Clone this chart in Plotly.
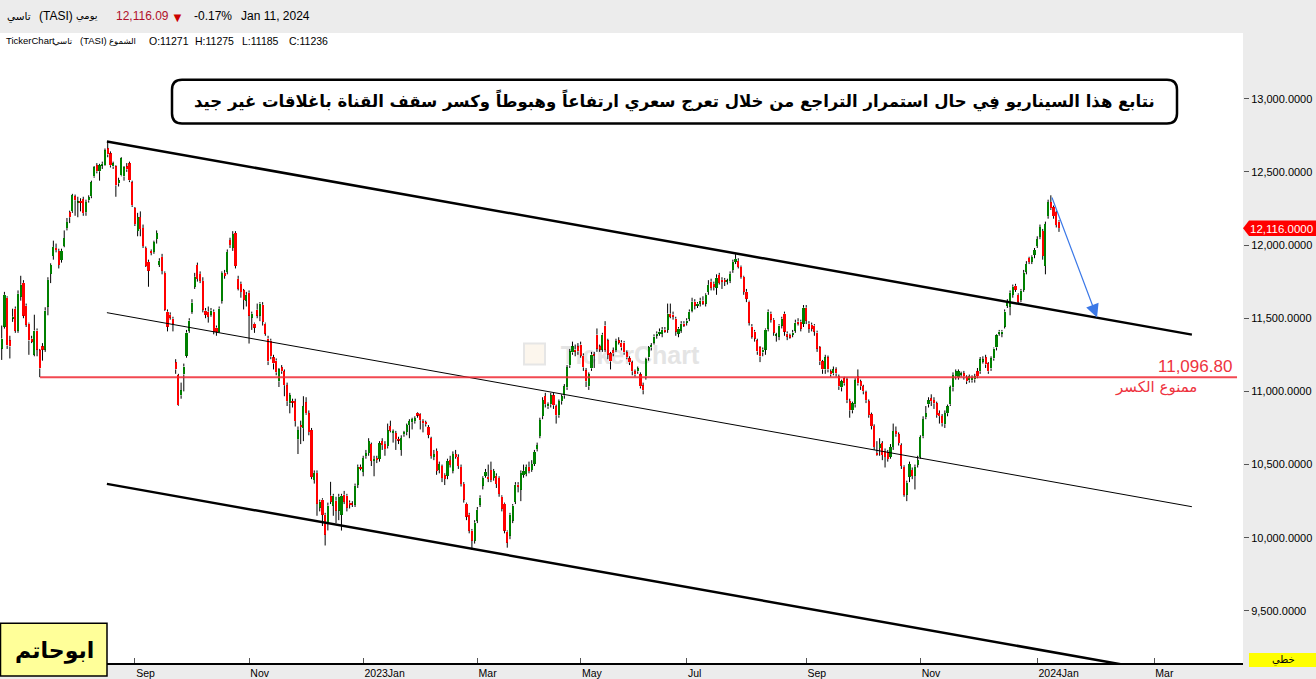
import pandas as pd
import plotly.graph_objects as go

# ---------------- data (daily candles, TASI) ----------------
open_ = [
 11293,11443,11640,11348,11500,11565,11415,11647,11742,11586,11463,11361,11252,11416,11280,11307,11286,11580,11803,11926,
 11980,11960,11898,11994,12116,12225,12232,12333,12290,12300,12313,12225,12306,12334,12470,12545,12504,12545,12545,12660,
 12626,12537,12537,12422,
 12476,12469,12537,12558,12428,12252,12096,12191,12116,11980,11885,11960,11953,12041,11864,11919,11810,11545,11524,11497,
 11198,11110,10973,11116,11245,11415,11545,11715,11864,11803,11755,11552,11545,11524,11545,11436,11409,11620,11810,11817,
 12034,11980,12082,
 11769,11735,11690,11620,11674,11504,11463,11558,11518,11592,11463,11361,11347,11232,11211,11069,11164,11137,11042,10919,
 10933,10933,10674,10770,10749,10926,10851,10735,10395,10443,10205,10260,10157,10103,10287,10219,10253,10185,10157,10294,
 10287,10240,10233,10226,
 10362,10484,10450,10558,10579,10640,10525,10545,10538,10660,10640,10626,10763,10716,10715,10674,10600,10708,10722,10770,
 10790,10797,10851,10844,10797,10790,10756,10681,10552,10593,10463,10490,10430,10422,10531,10456,10572,10552,10484,10368,
 10232,10157,10048,9980,
 10117,10226,10355,10423,10416,10463,10409,10423,10409,10280,10232,10042,10014,10117,10246,10362,10328,10430,10436,10484,
 10463,10504,10606,10695,10831,10967,10898,10912,10973,10898,10837,10933,10973,11028,11178,11266,11286,11307,11320,11245,
 11143,11035,11157,
 11252,11388,11307,11286,11450,11348,11259,11280,11286,11348,11334,11334,11266,11225,11198,11137,11137,11116,11042,11103,
 11232,11300,11334,11382,11395,11395,11422,11422,11531,11525,11497,11395,11416,11463,11470,11497,11552,11613,11586,11600,
 11620,11600,11680,11749,
 11735,11708,11796,11762,11762,11749,11756,11830,11885,11892,11851,11783,11681,11613,11443,11409,11348,11300,11266,11286,
 11429,11531,11490,11382,11375,11450,11531,11395,11382,11388,11416,11477,11477,11463,11572,11463,11456,11450,11402,11300,
 11205,11150,11232,
 11137,11123,11150,11103,11028,11089,11082,10933,10871,10912,11103,11069,11035,10994,10933,10844,10763,10579,10613,10647,
 10593,10586,10552,10620,10729,10708,10633,10484,10294,10416,10463,10423,10497,10552,10694,10824,10912,10953,10940,10919,
 10851,10831,10776,10851,10912,
 11028,11103,11096,11116,11123,11096,11076,11076,11082,11137,11137,11205,11232,11191,11157,11225,11300,11395,11395,11443,
 11586,11579,11660,11722,11660,11626,11694,11817,11912,11885,11933,11994,12055,12096,11858,12198,12293,12259,12225,12160,
]
high_ = [
 11450,11680,11650,11380,11565,11580,11690,11790,11760,11600,11470,11380,11524,11430,11290,11330,11575,11780,11875,12030,
 12010,11975,11975,12100,12185,12235,12350,12345,12330,12320,12330,12310,12340,12440,12540,12560,12555,12570,12660,12705,
 12640,12570,12545,12460,
 12600,12540,12560,12570,12440,12260,12220,12230,12140,11990,11900,11970,12030,12100,11910,11940,11820,11560,11540,11510,
 11220,11120,11060,11190,11420,11500,11630,11810,11880,11820,11780,11570,11580,11570,11560,11450,11580,11820,11830,11970,
 12050,12095,12095,
 11790,11750,11700,11680,11690,11545,11470,11600,11610,11610,11470,11380,11360,11250,11225,11160,11180,11150,11060,10990,
 10950,10950,10760,10800,10967,10960,10870,10750,10460,10460,10260,10270,10170,10240,10382,10300,10280,10300,10300,10320,
 10300,10255,10250,10370,
 10500,10500,10560,10600,10680,10650,10560,10560,10660,10680,10660,10780,10800,10740,10730,10690,10700,10730,10780,10810,
 10820,10830,10857,10850,10810,10800,10770,10690,10600,10610,10520,10500,10440,10540,10560,10590,10600,10570,10500,10380,
 10240,10170,10060,10120,
 10210,10290,10420,10470,10500,10520,10470,10440,10420,10290,10240,10050,10170,10230,10380,10380,10460,10500,10500,10520,
 10530,10600,10650,10820,10960,10990,10925,10990,10990,10910,10945,10980,11050,11180,11290,11340,11320,11330,11340,11260,
 11160,11130,11270,
 11270,11430,11320,11400,11480,11360,11270,11300,11360,11370,11350,11345,11280,11240,11210,11150,11170,11130,11060,11230,
 11310,11330,11390,11410,11430,11440,11440,11600,11600,11545,11510,11440,11480,11480,11500,11560,11640,11630,11610,11640,
 11650,11670,11760,11770,
 11750,11800,11810,11780,11775,11770,11820,11900,11938,11910,11860,11790,11700,11620,11460,11420,11360,11310,11300,11430,
 11560,11545,11500,11400,11460,11510,11545,11410,11395,11420,11490,11500,11490,11590,11590,11480,11470,11460,11415,11310,
 11215,11250,11245,
 11150,11170,11165,11115,11080,11100,11095,10950,10930,11090,11150,11080,11045,11005,10945,10855,10775,10660,10680,10660,
 10610,10600,10640,10780,10760,10720,10645,10495,10390,10520,10480,10500,10560,10700,10830,10900,10960,10980,10960,10930,
 10870,10845,10870,10910,11040,
 11130,11150,11150,11135,11140,11110,11115,11110,11120,11160,11235,11240,11250,11200,11240,11300,11390,11420,11420,11560,
 11630,11690,11730,11735,11670,11700,11830,11890,11920,11930,11980,12060,12140,12110,12160,12310,12340,12270,12235,12170,
]
low_ = [
 11215,11429,11290,11225,11475,11400,11400,11620,11500,11440,11250,11330,11240,11240,11097,11210,11270,11520,11740,11900,
 11950,11840,11880,11985,12100,12150,12220,12200,12190,12230,12200,12200,12290,12320,12460,12490,12440,12520,12540,12600,
 12530,12520,12330,12400,
 12470,12440,12500,12430,12260,12130,12060,12060,11980,11850,11715,11930,11940,12010,11850,11800,11550,11410,11490,11410,
 11120,10900,10950,11000,11230,11400,11530,11700,11750,11740,11540,11500,11470,11510,11390,11380,11400,11600,11770,11800,
 11980,11960,11840,
 11690,11640,11560,11580,11327,11420,11400,11500,11480,11450,11380,11180,11220,11150,11110,11030,11120,10967,10900,10850,
 10890,10760,10572,10640,10660,10840,10700,10400,10370,10150,10180,10080,9947,10050,10230,10150,10100,10120,10049,10230,
 10180,10200,10210,10210,
 10340,10460,10420,10540,10560,10490,10420,10510,10520,10600,10560,10610,10720,10650,10600,10640,10560,10690,10700,10680,
 10740,10780,10820,10740,10720,10760,10680,10540,10530,10430,10440,10380,10360,10400,10480,10440,10540,10470,10350,10240,
 10120,10030,9918,9960,
 10100,10210,10330,10410,10380,10380,10390,10340,10280,10180,10030,9932,9990,10100,10230,10310,10250,10410,10420,10440,
 10450,10490,10590,10680,10810,10890,10880,10890,10880,10780,10820,10910,10950,11010,11160,11250,11240,11250,11230,11140,
 11030,11010,11140,
 11160,11270,11270,11270,11270,11220,11150,11240,11270,11320,11280,11250,11220,11180,11110,11100,11120,11020,10980,11080,
 11210,11280,11320,11360,11380,11370,11400,11400,11500,11490,11380,11370,11400,11440,11450,11480,11540,11560,11570,11580,
 11590,11580,11660,11690,
 11690,11660,11730,11700,11720,11730,11740,11810,11870,11840,11770,11660,11610,11450,11360,11340,11250,11200,11240,11250,
 11410,11470,11380,11340,11350,11430,11380,11350,11360,11370,11400,11450,11410,11440,11460,11400,11410,11380,11270,11180,
 11120,11120,11130,
 11100,11110,11100,11010,11000,11040,10920,10820,10850,10890,11040,11010,10980,10920,10820,10740,10600,10560,10560,10530,
 10480,10520,10540,10600,10690,10630,10470,10280,10250,10380,10400,10330,10480,10540,10680,10810,10890,10900,10880,10820,
 10780,10760,10750,10830,10900,
 11000,11080,11080,11100,11080,11050,11060,11060,11060,11090,11120,11190,11160,11120,11140,11210,11280,11380,11370,11430,
 11570,11520,11640,11680,11590,11610,11680,11800,11870,11870,11910,11980,12040,11900,11800,12180,12240,12180,12120,12090,
]
close_ = [
 11361,11660,11314,11307,11510,11415,11667,11728,11518,11456,11348,11340,11416,11286,11157,11286,11552,11762,11864,11987,
 11966,11864,11960,12048,12157,12190,12340,12306,12295,12290,12218,12293,12327,12429,12531,12504,12545,12555,12647,12619,
 12545,12558,12408,12442,
 12592,12531,12517,12442,12272,12143,12191,12109,11994,11858,11824,11946,12021,12082,11892,11824,11558,11443,11504,11463,
 11150,10905,11007,11170,11402,11484,11606,11783,11769,11755,11558,11524,11510,11552,11409,11409,11565,11810,11790,11953,
 12000,12075,11858,
 11701,11680,11626,11660,11518,11531,11436,11518,11600,11477,11395,11205,11239,11191,11130,11150,11137,11042,10933,10973,
 10925,10797,10735,10756,10898,10851,10722,10416,10443,10232,10246,10157,10021,10219,10246,10287,10185,10280,10287,10246,
 10205,10226,10226,10355,
 10484,10470,10545,10579,10660,10525,10538,10531,10647,10633,10606,10735,10729,10729,10674,10667,10681,10722,10770,10797,
 10810,10817,10838,10803,10783,10776,10702,10559,10572,10456,10504,10409,10402,10525,10497,10572,10552,10490,10368,10260,
 10144,10048,9980,10103,
 10191,10273,10409,10450,10402,10395,10456,10368,10300,10198,10049,9967,10157,10219,10362,10348,10443,10457,10484,10457,
 10504,10586,10633,10803,10940,10912,10912,10973,10905,10837,10933,10967,11035,11164,11273,11307,11273,11273,11245,11164,
 11069,11116,11252,
 11245,11293,11286,11388,11286,11252,11205,11259,11341,11334,11300,11266,11232,11198,11137,11116,11157,11035,11008,11218,
 11300,11314,11375,11395,11409,11422,11409,11531,11510,11510,11409,11429,11463,11450,11484,11545,11613,11586,11600,11620,
 11600,11660,11728,11708,
 11715,11776,11742,11749,11749,11756,11803,11885,11905,11851,11783,11681,11633,11470,11375,11361,11273,11239,11286,11422,
 11545,11490,11402,11388,11450,11497,11409,11375,11368,11402,11470,11463,11429,11572,11484,11429,11429,11409,11293,11205,
 11150,11232,11150,
 11116,11150,11123,11035,11069,11055,10940,10871,10919,11076,11055,11035,11001,10940,10838,10763,10620,10565,10640,10565,
 10552,10538,10620,10729,10708,10647,10491,10294,10375,10504,10423,10484,10531,10688,10810,10851,10940,10933,10919,10838,
 10831,10783,10851,10898,11028,
 11110,11137,11137,11123,11103,11069,11103,11096,11103,11103,11218,11218,11184,11137,11225,11293,11382,11409,11409,11545,
 11613,11674,11715,11694,11613,11688,11810,11871,11885,11919,11966,12041,12123,11926,12143,12293,12252,12198,12137,12116,
]

# Tadawul closures used to lay out trading days (Sun-Thu sessions)
holidays = ["2022-07-07", "2022-07-10", "2022-07-11", "2022-07-12", "2022-07-13", "2022-07-14",
            "2022-09-22", "2022-11-23", "2023-02-22",
            "2023-04-20", "2023-04-23", "2023-04-24", "2023-04-25", "2023-04-26",
            "2023-06-25", "2023-06-26", "2023-06-27", "2023-06-28", "2023-06-29", "2023-07-02",
            "2023-09-24", "2024-02-22"]
last_date = "2024-01-11"
tick_months = ["2022-09", "2022-11", "2023-01", "2023-03", "2023-05", "2023-07",
               "2023-09", "2023-11", "2024-01", "2024-03"]
tick_labels = ["Sep", "Nov", "2023Jan", "Mar", "May", "Jul", "Sep", "Nov", "2024Jan", "Mar"]
y_ticks = [9500, 10000, 10500, 11000, 11500, 12000, 12500, 13000]
support_level = 11096.80
last_price = 12116.09
tag_price = 12116.0

# ---------------- layout helpers ----------------
W, H = 1316, 679
PL, PR, PT, PB = 0, 1243, 33, 666          # plot area in pixels
X_RANGE = [-0.63, 456.7]
Y_RANGE = [9144, 13449]
FONT = "Liberation Sans, DejaVu Sans, sans-serif"
AR = "DejaVu Sans, sans-serif"


def px(xp):
    return (xp - PL) / (PR - PL)


def py(yp):
    return (PB - yp) / (PB - PT)


n = len(close_)
days = pd.bdate_range("2022-01-01", "2024-06-30", freq="C",
                      weekmask="Sun Mon Tue Wed Thu", holidays=holidays)
days = list(days)
i_last = days.index(pd.Timestamp(last_date))
i0 = i_last - n + 1
pos = {d: k - i0 for k, d in enumerate(days)}
tick_vals = []
for m in tick_months:
    first = next(d for d in days if d.strftime("%Y-%m") == m)
    tick_vals.append(pos[first])

xs = list(range(n))
colors = ["#008000" if c >= o else "#ff0000" for o, c in zip(open_, close_)]

wx, wy = [], []
for i, (o, h, l, c) in enumerate(zip(open_, high_, low_, close_)):
    top, bot = max(o, c), min(o, c)
    wx += [i, i, None, i, i, None]
    wy += [h, top, None, bot, l, None]

fig = go.Figure()
fig.add_trace(go.Scatter(x=wx, y=wy, mode="lines", line=dict(color="black", width=1),
                         hoverinfo="skip", showlegend=False))
fig.add_trace(go.Bar(x=xs, y=[abs(c - o) if c != o else 4 for o, c in zip(open_, close_)],
                     base=[min(o, c) for o, c in zip(open_, close_)],
                     marker=dict(color=colors, line=dict(width=0)), width=0.8,
                     hoverinfo="skip", showlegend=False))

shapes = []
# watermark (below candles)
shapes.append(dict(type="rect", xref="paper", yref="paper", x0=px(548), x1=px(712), y0=py(367), y1=py(343),
                   line=dict(width=0), fillcolor="rgba(0,0,0,0)", layer="below",
                   label=dict(text="TickerChart", font=dict(size=25, color="#e4e4e4", family=FONT, weight="bold"),
                              textposition="middle center")))
shapes.append(dict(type="rect", xref="paper", yref="paper", x0=px(524), x1=px(545), y0=py(366), y1=py(345),
                   line=dict(color="#e6e6e6", width=2), fillcolor="rgba(250,240,225,0.6)", layer="below"))

# channel lines
shapes.append(dict(type="line", xref="x", yref="y", x0=38.7, y0=12708, x1=437.9, y1=11388,
                   line=dict(color="black", width=2.5)))
shapes.append(dict(type="line", xref="x", yref="y", x0=38.7, y0=11538, x1=437.9, y1=10212,
                   line=dict(color="black", width=1)))
shapes.append(dict(type="line", xref="x", yref="y", x0=38.7, y0=10368, x1=437.9, y1=9049,
                   line=dict(color="black", width=2.5)))
# support line
shapes.append(dict(type="line", xref="x", yref="y", x0=14.1, y0=support_level, x1=454.5, y1=support_level,
                   line=dict(color="rgba(240,40,50,0.85)", width=2)))

# title box with rounded corners
x0b, x1b, y0b, y1b, r = 172, 1177, 80, 124, 10
rx, ry = r / (PR - PL), r / (PB - PT)
X0, X1, Yt, Yb = px(x0b), px(x1b), py(y0b), py(y1b)
path = (f"M {X0+rx},{Yt} L {X1-rx},{Yt} Q {X1},{Yt} {X1},{Yt-ry} L {X1},{Yb+ry} Q {X1},{Yb} {X1-rx},{Yb} "
        f"L {X0+rx},{Yb} Q {X0},{Yb} {X0},{Yb+ry} L {X0},{Yt-ry} Q {X0},{Yt} {X0+rx},{Yt} Z")
shapes.append(dict(type="path", xref="paper", yref="paper", path=path,
                   line=dict(color="black", width=2.5), fillcolor="white"))

# price tag at right
tx0, tx1, tya, tyb = 1243, 1316, 221.5, 237
shapes.append(dict(type="path", xref="paper", yref="paper",
                   path=(f"M {px(tx0)},{py((tya+tyb)/2)} L {px(tx0+6)},{py(tya)} L {px(tx1)},{py(tya)} "
                         f"L {px(tx1)},{py(tyb)} L {px(tx0+6)},{py(tyb)} Z"),
                   line=dict(width=0), fillcolor="#ff0000"))
# signature box
shapes.append(dict(type="rect", xref="paper", yref="paper", x0=px(0.5), x1=px(107), y0=py(679), y1=py(626),
                   line=dict(color="black", width=1.5), fillcolor="#ffff99"))
# small yellow box bottom right
shapes.append(dict(type="rect", xref="paper", yref="paper", x0=px(1249), x1=px(1316), y0=py(670), y1=py(656),
                   line=dict(width=0), fillcolor="#ffff00"))

ann = []


def text(xp, yp, s, size=11, color="black", anchor="left", family=FONT, bold=False):
    ann.append(dict(xref="paper", yref="paper", x=px(xp), y=py(yp), text=(f"<b>{s}</b>" if bold else s),
                    showarrow=False, xanchor=anchor, yanchor="middle",
                    font=dict(size=size, color=color, family=family)))


# header line 1
text(33, 16, "تاسي", 10.5, anchor="right", family=AR)
text(37, 16, "(TASI)", 12)
text(100, 16, "يومي", 10, anchor="right", family=AR)
text(114, 16, f"{last_price:,.2f}", 12, color="#b0102a")
text(177, 17, "▼", 13, color="#cc0000", anchor="center")
text(192, 16, "-0.17%", 12)
text(239, 16, "Jan 11, 2024", 12)
# header line 2
text(4, 41, "TickerChart", 9.5)
text(75, 41, "تاسي", 8.5, anchor="right", family=AR)
text(78, 41, "(TASI)", 9.5)
text(138, 41, "الشموع", 8.5, anchor="right", family=AR)
text(147, 41, "O:11271", 10.5)
text(193, 41, "H:11275", 10.5)
text(240, 41, "L:11185", 10.5)
text(287, 41, "C:11236", 10.5)
# title
text(674, 101, "نتابع هذا السيناريو فِي حال استمرار التراجع من خلال تعرج سعري ارتفاعاً وهبوطاً وكسر سقف القناة باغلاقات غير جيد",
     16.5, anchor="center", family=AR, bold=True)
# support labels
text(1234, 368, f"{support_level:,.2f}", 17, color="#ee3340", anchor="right")
text(1156, 389, "ممنوع الكسر", 15, color="#ee3340", anchor="center", family=AR)
# price tag text
text(1281, 229.5, f"{tag_price:,.4f}", 11.5, color="white", anchor="center")
# signature
text(54, 654, "ابوحاتم", 22, anchor="center", family=AR, bold=True)
text(1283, 663, "خطي", 10, anchor="center", family=AR)

# projection arrow
ann.append(dict(xref="x", yref="y", axref="x", ayref="y", x=403, y=11505, ax=386.2, ay=12335,
                showarrow=True, arrowhead=2, arrowsize=2.2, arrowwidth=1.2, arrowcolor="#3b78e7",
                text="", standoff=0))

fig.update_layout(
    width=W, height=H, autosize=False,
    margin=dict(l=PL, r=W - PR, t=PT, b=H - PB, pad=0),
    paper_bgcolor="#ececec", plot_bgcolor="white",
    showlegend=False, shapes=shapes, annotations=ann, bargap=0,
    font=dict(family=FONT, size=11, color="black"),
    xaxis=dict(range=X_RANGE, tickmode="array", tickvals=tick_vals, ticktext=tick_labels,
               showgrid=False, zeroline=False, showline=True, linecolor="black", linewidth=1.5,
               ticks="inside", ticklen=5, tickcolor="#555", tickfont=dict(size=10.5, family=FONT),
               ticklabelposition="outside right", fixedrange=True),
    yaxis=dict(range=Y_RANGE, side="right", tickmode="array", tickvals=y_ticks,
               ticktext=[f"{v:,.4f}" for v in y_ticks], showgrid=False, zeroline=False,
               showline=False, ticks="outside", ticklen=5, tickcolor="#555",
               tickfont=dict(size=11, family=FONT), fixedrange=True),
)

fig.write_html("out.html", config={"displayModeBar": False},
               post_script="document.body.style.margin='0';document.body.style.overflow='hidden';")
